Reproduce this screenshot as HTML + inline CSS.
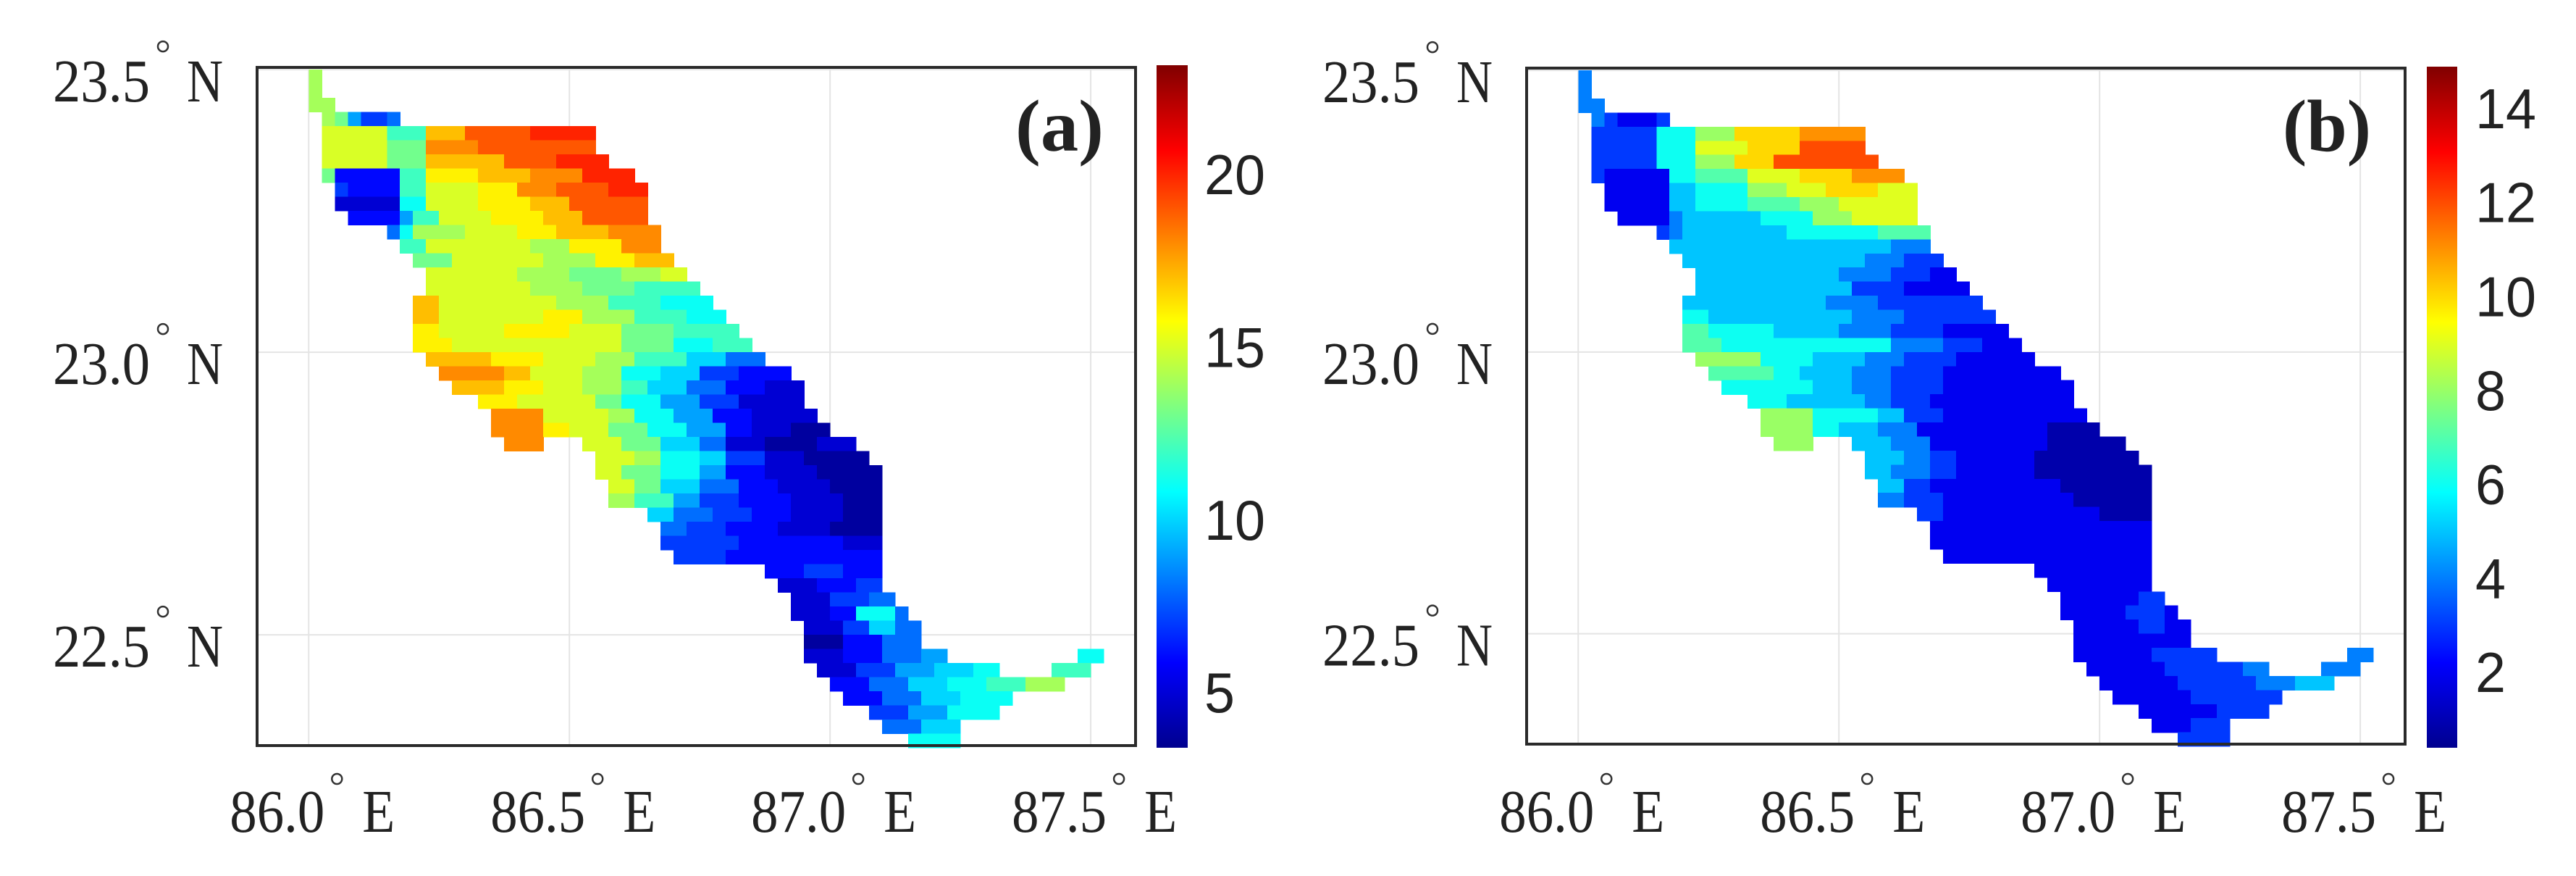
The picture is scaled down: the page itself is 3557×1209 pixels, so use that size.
<!DOCTYPE html>
<html><head><meta charset="utf-8"><style>
html,body{margin:0;padding:0;background:#fff;}
svg{display:block;}
text{fill:#222;}
</style></head><body>
<svg id="fig" width="3557" height="1209" viewBox="0 0 3557 1209" xmlns="http://www.w3.org/2000/svg">
<defs>
<linearGradient id="jet" x1="0" y1="1" x2="0" y2="0">
<stop offset="0" stop-color="#00008f"/><stop offset="0.125" stop-color="#0000ff"/><stop offset="0.375" stop-color="#00ffff"/><stop offset="0.625" stop-color="#ffff00"/><stop offset="0.875" stop-color="#ff0000"/><stop offset="1" stop-color="#800000"/>
</linearGradient>
</defs>
<g id="root"></g>
</svg>
<script>
// Grid: rows from lat 23.5 southward, cols from lon 85.95 eastward, step 0.025 deg.
// Each row: [startCol, "value*count ..."]; value is a base-36 char, '.' = no data.
const cellStep = 0.025;
const gridLon0 = 85.95;
const gridLat0 = 23.5;
const lonTicks = [86.0, 86.5, 87.0, 87.5];
const latTicks = [23.5, 23.0, 22.5];
const lonTickLabels = ["86.0", "86.5", "87.0", "87.5"];
const latTickLabels = ["23.5", "23.0", "22.5"];
const cbTicksA = [5, 10, 15, 20];
const cbTicksB = [2, 4, 6, 8, 10, 12, 14];
const cbRangeA = [3.39, 23.15];
const cbRangeB = [0.38, 14.88];
const gridA = [
[2,"e*1"],[2,"e*1"],[2,"e*2"],
[3,"e*1 d*1 9*1 7*2 8*1"],
[3,"f*5 c*3 h*3 j*5 k*5"],
[3,"f*5 d*3 i*4 j*4 j*5"],
[3,"f*5 d*3 h*3 h*3 j*4 k*4"],
[3,"d*1 6*5 c*2 g*4 h*4 i*4 k*4"],
[4,"7*1 6*4 c*2 f*4 g*3 i*3 j*4 k*3"],
[4,"5*5 b*2 f*4 g*4 h*3 j*6"],
[5,"6*4 9*1 c*2 f*4 g*4 h*3 j*5"],
[8,"8*1 b*1 e*4 f*4 g*3 h*4 i*4"],
[9,"c*2 f*8 e*3 g*4 i*3"],
[10,"d*3 f*7 e*4 g*3 h*3"],
[11,"f*7 e*4 d*4 e*3 f*2"],
[11,"f*8 e*4 d*4 c*5"],
[10,"h*2 f*9 e*4 c*4 b*4"],
[10,"h*2 f*8 g*3 e*4 c*4 b*3"],
[10,"g*2 f*5 g*5 f*4 d*4 c*5"],
[10,"g*3 f*13 d*4 b*3 c*3"],
[11,"h*5 g*4 f*4 e*3 c*4 a*3 8*3"],
[12,"i*5 h*2 f*4 e*3 b*3 a*3 7*3 6*4"],
[13,"h*4 g*3 f*3 e*3 c*2 a*3 8*3 6*3 5*3"],
[15,"g*3 f*6 d*2 b*3 9*3 7*3 5*5"],
[16,"i*4 f*5 e*2 b*3 9*3 6*3 5*5"],
[16,"i*4 g*2 f*3 d*3 b*3 9*3 6*2 5*3 4*3"],
[17,"i*3 .*3 f*3 d*3 a*3 8*2 5*3 4*4 5*3"],
[24,"f*3 e*2 b*3 a*2 7*3 5*3 4*5"],
[24,"f*2 d*3 b*3 9*2 6*3 5*4 4*5"],
[25,"f*2 d*2 a*3 8*3 6*3 5*4 4*4"],
[25,"e*2 c*3 9*2 7*3 6*4 5*4 4*3"],
[28,"a*2 8*3 7*3 6*3 5*4 4*3"],
[29,"8*2 7*3 6*4 5*4 4*4"],
[29,"7*6 6*8 5*3"],
[30,"7*4 6*12"],
[37,"6*3 7*3 6*3"],
[38,"5*3 6*3 7*2"],
[39,"5*3 7*3 8*2"],
[39,"5*3 6*2 b*3 8*1"],
[40,"5*3 7*2 a*2 8*2"],
[40,"4*3 6*3 8*3"],
[40,"5*3 6*3 8*3 9*2 .*10 b*2"],
[41,"5*3 7*3 9*3 a*3 b*2 .*4 c*3"],
[42,"6*3 8*3 a*3 b*3 c*3 e*3"],
[43,"6*3 8*3 a*3 b*4"],
[45,"7*3 9*3 b*4"],
[46,"8*3 a*3"],
[48,"b*4"]
];
const gridB = [
[2,"4*1"],[2,"4*1"],[2,"4*2"],
[3,"4*1 3*1 2*3 3*1"],
[3,"3*5 6*3 8*3 a*5 b*5"],
[3,"3*5 6*3 9*4 a*4 c*5"],
[3,"3*5 6*3 8*3 a*3 c*4 c*4"],
[3,"3*1 2*5 6*2 7*4 9*4 a*4 b*4"],
[4,"2*5 5*2 6*4 8*3 9*3 a*4 9*3"],
[4,"2*5 5*2 6*4 7*4 8*3 9*6"],
[5,"2*4 4*1 5*2 5*4 6*4 8*3 9*5"],
[8,"3*1 4*1 5*8 6*3 6*4 7*4"],
[9,"5*17 4*3"],
[10,"5*14 4*3 3*3"],
[11,"5*11 4*4 3*3 2*2"],
[11,"5*12 3*4 2*5"],
[10,"5*11 4*4 3*8"],
[10,"6*2 5*11 4*4 3*7"],
[10,"7*2 6*5 5*5 4*4 3*4 2*5"],
[10,"7*3 6*13 4*4 3*3 2*3"],
[11,"8*5 6*4 5*4 4*3 3*4 2*6"],
[12,"7*5 6*2 5*4 4*3 3*4 2*9"],
[13,"6*7 5*3 4*3 3*4 2*10"],
[15,"6*3 5*6 4*2 3*3 2*11"],
[16,"8*4 6*5 5*2 3*3 2*11"],
[16,"8*4 6*2 5*3 4*3 2*10 1*4"],
[17,"8*3 .*3 5*3 4*3 2*9 1*6"],
[24,"5*3 4*2 3*2 2*6 1*8"],
[24,"5*2 4*3 3*2 2*6 1*9"],
[25,"5*2 3*2 2*10 1*7"],
[25,"4*2 3*3 2*10 1*6"],
[28,"3*2 2*12 1*4"],
[29,"2*17"],
[29,"2*17"],
[30,"2*16"],
[37,"2*9"],
[38,"2*8"],
[39,"2*6 3*2"],
[39,"2*5 3*3 2*1"],
[40,"2*5 3*2 2*2"],
[40,"2*9"],
[40,"2*6 3*5 .*10 4*2"],
[41,"2*6 3*6 4*2 .*4 4*3"],
[42,"2*6 3*6 4*3 5*3"],
[43,"2*6 3*7"],
[45,"2*6 3*4"],
[46,"2*3 3*3"],
[48,"3*4"]
];

const NS = "http://www.w3.org/2000/svg";
const root = document.getElementById('root');
function mk(tag, attrs, parent){
  const e = document.createElementNS(NS, tag);
  for (const k in attrs) e.setAttribute(k, attrs[k]);
  (parent || root).appendChild(e);
  return e;
}
function jet(t){
  t = Math.max(0, Math.min(1, t));
  const c = v => Math.round(255 * Math.max(0, Math.min(1, v)));
  return `rgb(${c(1.5-Math.abs(4*t-3))},${c(1.5-Math.abs(4*t-2))},${c(1.5-Math.abs(4*t-1))})`;
}
function expandRow(spec){
  const out = [];
  spec.split(' ').forEach(tok => {
    const [ch, n] = tok.split('*');
    for (let i = 0; i < +n; i++) out.push(ch);
  });
  return out;
}

function panel(opt){
  const g = mk('g', {});
  
  
  const b = opt.box;
  const lon0 = 85.901, lon1 = 87.586, lat0 = 22.304, lat1 = 23.504;
  const X = lon => b.x0 + (lon - lon0) / (lon1 - lon0) * (b.x1 - b.x0);
  const Y = lat => b.y0 + (lat1 - lat) / (lat1 - lat0) * (b.y1 - b.y0);
  lonTicks.forEach(v => {
    const l = mk('line', {x1:X(v), x2:X(v), y1:b.y0, y2:b.y1, stroke:'#e4e4e4', 'stroke-width':2}, g);
    
    
  });
  latTicks.forEach(v => {
    const l = mk('line', {x1:b.x0, x2:b.x1, y1:Y(v), y2:Y(v), stroke:'#e4e4e4', 'stroke-width':2}, g);
    
    
  });
  const cg = mk('g', {'shape-rendering':'crispEdges'}, g);
  
  
  const [vmin, vmax] = opt.range;
  opt.grid.forEach((row, r) => {
    const vals = expandRow(row[1]);
    vals.forEach((ch, i) => {
      if (ch === '.') return;
      const c = row[0] + i;
      const v = parseInt(ch, 36);
      const la = gridLat0 - r * cellStep, lo = gridLon0 + c * cellStep;
      const x = X(lo), y = Y(la);
      const rc = mk('rect', {x:x, y:y, width:X(lo+cellStep)-x+0.6, height:Y(la-cellStep)-y+0.6, fill:jet((v - vmin)/(vmax - vmin))}, cg);
      
      
    });
  });
  const fr = mk('rect', {x:b.x0, y:b.y0, width:b.x1-b.x0, height:b.y1-b.y0, fill:'none', stroke:'#2a2a2a', 'stroke-width':4}, g);
  
  
  latTicks.forEach((v, i) => {
    const by = Y(v) + 44;
    const t = mk('text', {x:b.x0-282, y:by, 'font-family':'Liberation Serif, serif', 'font-size':84, textLength:134, lengthAdjust:'spacingAndGlyphs'}, g);
    t.textContent = latTickLabels[i];
    
    
    const d = mk('circle', {cx:b.x0-130, cy:by-76, r:7, fill:'none', stroke:'#333', 'stroke-width':2.5}, g);
    
    
    const n = mk('text', {x:b.x0-97, y:by, 'font-family':'Liberation Serif, serif', 'font-size':84, textLength:50, lengthAdjust:'spacingAndGlyphs'}, g);
    n.textContent = 'N';
    
    
  });
  lonTicks.forEach((v, i) => {
    const gx = X(v);
    const t = mk('text', {x:gx-109, y:1148, 'font-family':'Liberation Serif, serif', 'font-size':84, textLength:131, lengthAdjust:'spacingAndGlyphs'}, g);
    t.textContent = lonTickLabels[i];
    
    
    const d = mk('circle', {cx:gx+39, cy:1075, r:7, fill:'none', stroke:'#333', 'stroke-width':2.5}, g);
    
    
    const e = mk('text', {x:gx+74, y:1148, 'font-family':'Liberation Serif, serif', 'font-size':84, textLength:45, lengthAdjust:'spacingAndGlyphs'}, g);
    e.textContent = 'E';
    
    
  });
  const pl = mk('text', {x:opt.letterX, y:208, 'font-family':'Liberation Serif, serif', 'font-weight':'bold', 'font-size':102, textLength:122, lengthAdjust:'spacingAndGlyphs'}, g);
  pl.textContent = opt.letter;
  
  
  const cb = opt.cb;
  const CY = v => cb.y1 - (v - vmin) / (vmax - vmin) * (cb.y1 - cb.y0);
  const bar = mk('rect', {x:cb.x0, y:cb.y0, width:cb.x1-cb.x0, height:cb.y1-cb.y0, fill:'url(#jet)'}, g);
  
  
  opt.ticks.forEach(v => {
    const s = String(v);
    const t = mk('text', {x:cb.lx, y:CY(v)+28, 'font-family':'Liberation Sans, sans-serif', 'font-size':78, textLength:42*s.length, lengthAdjust:'spacingAndGlyphs'}, g);
    t.textContent = s;
    
    
  });
}

panel({name:'panel-a', grid:gridA, range:cbRangeA, ticks:cbTicksA,
  box:{x0:355, x1:1568, y0:93, y1:1029}, letter:'(a)', letterX:1402,
  cb:{x0:1597, x1:1640, y0:90, y1:1032, lx:1663}});
panel({name:'panel-b', grid:gridB, range:cbRangeB, ticks:cbTicksB,
  box:{x0:2108, x1:3321, y0:94, y1:1027}, letter:'(b)', letterX:3152,
  cb:{x0:3351, x1:3393, y0:92, y1:1032, lx:3418}});
</script>
</body></html>
